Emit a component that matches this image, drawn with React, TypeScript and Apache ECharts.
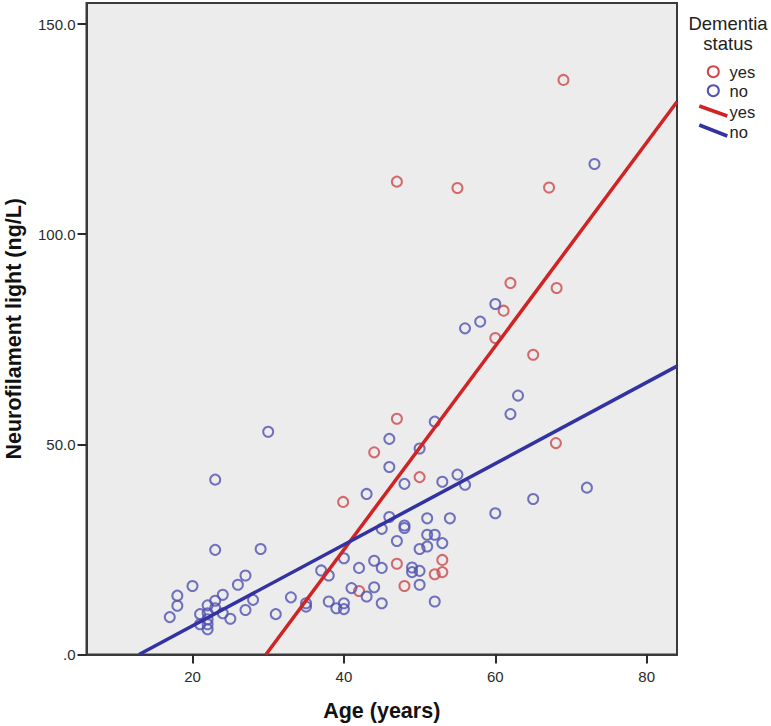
import React, { useEffect, useRef } from "react";
import * as echarts from "echarts";

const xTicks = [20, 40, 60, 80];
const yTicks = [0, 50, 100, 150];

const yesPoints: [number, number][] = [
  [69.0, 136.7], [47.0, 112.5], [55.0, 111.0], [67.1, 111.1], [62.0, 88.4],
  [68.1, 87.2], [61.1, 81.8], [60.0, 75.3], [65.0, 71.3], [47.0, 56.1],
  [68.0, 50.3], [44.0, 48.1], [50.0, 42.2], [39.9, 36.3], [47.0, 21.6],
  [53.0, 22.5], [53.0, 19.6], [52.0, 19.1], [48.0, 16.3], [42.0, 15.1],
];

const noPoints: [number, number][] = [
  [73.1, 116.7], [60.0, 83.4], [58.0, 79.2], [56.0, 77.6], [63.0, 61.6],
  [62.0, 57.2], [52.0, 55.4], [30.0, 53.0], [46.0, 51.3], [50.0, 49.0],
  [46.0, 44.6], [23.0, 41.6], [55.0, 42.8], [53.0, 41.1], [48.0, 40.6],
  [56.0, 40.4], [72.1, 39.7], [43.0, 38.2], [65.0, 37.0], [60.0, 33.6],
  [46.0, 32.7], [51.0, 32.4], [54.0, 32.4], [48.0, 30.7], [48.0, 30.1],
  [45.0, 29.9], [51.0, 28.5], [52.0, 28.5], [47.0, 27.0], [53.0, 26.5],
  [51.0, 25.7], [50.0, 25.1], [23.0, 24.9], [29.0, 25.1], [40.0, 22.9],
  [44.0, 22.3], [42.0, 20.6], [45.0, 20.6], [37.0, 20.0], [49.0, 20.7],
  [49.0, 19.6], [50.0, 19.9], [27.0, 18.8], [38.0, 18.8], [50.0, 16.6],
  [26.0, 16.6], [20.0, 16.3], [41.0, 15.8], [44.0, 16.0], [18.0, 14.0],
  [24.0, 14.2], [43.0, 13.8], [33.0, 13.6], [28.0, 13.0], [23.0, 12.8],
  [38.0, 12.6], [52.0, 12.6], [35.0, 12.2], [35.0, 11.4], [40.0, 12.2],
  [40.0, 10.8], [45.0, 12.2], [22.0, 11.7], [18.0, 11.6], [39.0, 11.0],
  [23.0, 11.0], [27.0, 10.6], [24.0, 9.8], [31.0, 9.6], [21.0, 9.6],
  [22.0, 9.8], [17.0, 8.9], [25.0, 8.5], [22.0, 8.4], [21.0, 7.2],
  [22.0, 7.2], [22.0, 6.0],
];

const yesFit: [number, number][] = [[29.7, 0], [84, 131.5]];
const noFit: [number, number][] = [[12.94, 0], [84, 68.6]];

const RED_PT = "#cc4a4e";
const BLUE_PT = "#5152b2";
const RED_LN = "#d02424";
const BLUE_LN = "#3232a2";
const FONT = "'Liberation Sans', Arial, sans-serif";

export default function App() {
  const ref = useRef<HTMLDivElement>(null);
  useEffect(() => {
    if (!ref.current) return;
    const chart = echarts.init(ref.current, null, { renderer: "svg" });
    const axisCommon = {
      axisLine: { show: true, lineStyle: { color: "#3a3a3a", width: 2 } },
      axisTick: { show: true, inside: false, length: 9, lineStyle: { color: "#2a2a2a", width: 2 } },
      splitLine: { show: false },
    };
    chart.setOption({
      animation: false,
      backgroundColor: "#ffffff",
      grid: {
        left: 86.5, right: 94, top: 3, bottom: 71.5,
        show: true, backgroundColor: "#ececec", borderColor: "#3a3a3a", borderWidth: 2,
        containLabel: false, outerBoundsMode: "none",
      },
      xAxis: {
        type: "value", min: 6, max: 84,
        name: "Age (years)", nameLocation: "middle", nameGap: 45,
        nameTextStyle: { fontFamily: FONT, fontWeight: "bold", fontSize: 21.5, color: "#111" },
        ...axisCommon,
        axisTick: { ...axisCommon.axisTick, customValues: xTicks },
        axisLabel: { customValues: xTicks, margin: 14, fontFamily: FONT, fontSize: 15, color: "#2b2b2b" },
      },
      yAxis: {
        type: "value", min: 0, max: 155,
        name: "Neurofilament light (ng/L)", nameLocation: "middle", nameGap: 62,
        nameTextStyle: { fontFamily: FONT, fontWeight: "bold", fontSize: 21.5, color: "#111" },
        ...axisCommon,
        axisTick: { ...axisCommon.axisTick, customValues: yTicks },
        axisLabel: {
          customValues: yTicks, margin: 11, fontFamily: FONT, fontSize: 15, color: "#2b2b2b",
          formatter: (v: number) => (v === 0 ? ".0" : v.toFixed(1)),
        },
      },
      series: [
        {
          type: "scatter", name: "yes", data: yesPoints, symbol: "circle", symbolSize: 10,
          itemStyle: { color: "rgba(0,0,0,0)", borderColor: RED_PT, borderWidth: 2 },
          z: 3,
        },
        {
          type: "scatter", name: "no", data: noPoints, symbol: "circle", symbolSize: 10,
          itemStyle: { color: "rgba(0,0,0,0)", borderColor: BLUE_PT, borderWidth: 2 },
          z: 3,
        },
        {
          type: "line", name: "yes fit", data: yesFit, showSymbol: false, symbol: "none",
          lineStyle: { color: RED_LN, width: 3.5 }, z: 4,
        },
        {
          type: "line", name: "no fit", data: noFit, showSymbol: false, symbol: "none",
          lineStyle: { color: BLUE_LN, width: 3.5 }, z: 4,
        },
      ],
      graphic: [
        { type: "text", x: 728, y: 23, style: { text: "Dementia", fontFamily: FONT, fontSize: 18.5, fill: "#222", align: "center", verticalAlign: "middle" } },
        { type: "text", x: 728, y: 43, style: { text: "status", fontFamily: FONT, fontSize: 18.5, fill: "#222", align: "center", verticalAlign: "middle" } },
        { type: "circle", shape: { cx: 713.3, cy: 71.7, r: 5.5 }, style: { fill: "none", stroke: RED_PT, lineWidth: 2 } },
        { type: "text", x: 729.5, y: 72, style: { text: "yes", fontFamily: FONT, fontSize: 16.5, fill: "#222", align: "left", verticalAlign: "middle" } },
        { type: "circle", shape: { cx: 713.3, cy: 90.7, r: 5.5 }, style: { fill: "none", stroke: BLUE_PT, lineWidth: 2 } },
        { type: "text", x: 729.5, y: 91, style: { text: "no", fontFamily: FONT, fontSize: 16.5, fill: "#222", align: "left", verticalAlign: "middle" } },
        { type: "line", shape: { x1: 699.3, y1: 106, x2: 727.3, y2: 116 }, style: { stroke: RED_LN, lineWidth: 3.5 } },
        { type: "text", x: 729.5, y: 112, style: { text: "yes", fontFamily: FONT, fontSize: 16.5, fill: "#222", align: "left", verticalAlign: "middle" } },
        { type: "line", shape: { x1: 699.3, y1: 125, x2: 727.3, y2: 136 }, style: { stroke: BLUE_LN, lineWidth: 3.5 } },
        { type: "text", x: 729.5, y: 132, style: { text: "no", fontFamily: FONT, fontSize: 16.5, fill: "#222", align: "left", verticalAlign: "middle" } },
      ],
    });
    return () => chart.dispose();
  }, []);
  return (
    <div
      ref={ref}
      style={{ position: "fixed", left: 0, top: 0, width: 771, height: 726 }}
    />
  );
}
